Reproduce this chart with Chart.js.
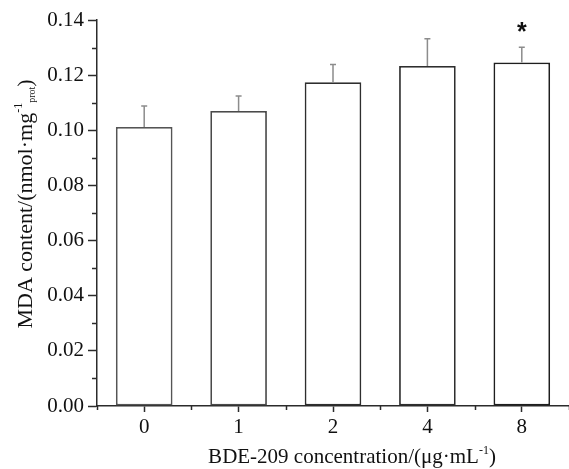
<!DOCTYPE html>
<html>
<head>
<meta charset="utf-8">
<script src="https://cdn.jsdelivr.net/npm/chart.js@4.4.0/dist/chart.umd.min.js"></script>
<style>
  html, body { margin: 0; padding: 0; background: #fff; }
  #wrap { width: 569px; height: 469px; }
</style>
</head>
<body>
<div id="wrap"><canvas id="mdaChart" width="569" height="469"></canvas></div>
<script>
// ============================
// Data
// ============================
const categories = ["0", "1", "2", "4", "8"];
const mdaMean = [0.1012, 0.1070, 0.1174, 0.1233, 0.1246];
const mdaSd = [0.0076, 0.0054, 0.0065, 0.0099, 0.0055];
const significance = ["", "", "", "", "*"];
const yMin = 0;
const yMax = 0.14;
const yStep = 0.02;

const SERIF = "'Liberation Serif', 'DejaVu Serif', serif";
const AXIS = "#2b2b2b";

// ============================
// Draw mixed-size text segments in a row
// ============================
function drawSegments(ctx, segs, x, y, align) {
  let total = 0;
  segs.forEach(s => {
    ctx.font = s.size + "px " + SERIF;
    s.w = ctx.measureText(s.text).width;
    total += s.w;
  });
  let cx = align === "center" ? x - total / 2 : x;
  ctx.textAlign = "left";
  ctx.textBaseline = "alphabetic";
  segs.forEach(s => {
    ctx.font = s.size + "px " + SERIF;
    ctx.fillText(s.text, cx, y + (s.dy || 0));
    cx += s.w;
  });
}

// ============================
// Plugin: error bars, star, minor ticks, axis titles
// ============================
const extrasPlugin = {
  id: "extras",
  afterDatasetsDraw(chart) {
    const ctx = chart.ctx;
    const meta = chart.getDatasetMeta(0);
    const y = chart.scales.y;

    ctx.save();
    // error bars (upper half only)
    ctx.strokeStyle = "#8c8c8c";
    ctx.lineWidth = 1.5;
    meta.data.forEach((bar, i) => {
      const top = y.getPixelForValue(mdaMean[i] + mdaSd[i]);
      const base = y.getPixelForValue(mdaMean[i]);
      ctx.beginPath();
      ctx.moveTo(bar.x, base);
      ctx.lineTo(bar.x, top);
      ctx.moveTo(bar.x - 3, top);
      ctx.lineTo(bar.x + 3, top);
      ctx.stroke();

      if (significance[i]) {
        ctx.fillStyle = "#111";
        ctx.font = "bold 25px 'Liberation Sans', sans-serif";
        ctx.textAlign = "center";
        ctx.textBaseline = "middle";
        ctx.fillText(significance[i], bar.x, top - 14);
      }
    });
    ctx.restore();
  },
  afterDraw(chart) {
    const ctx = chart.ctx;
    const x = chart.scales.x;
    const y = chart.scales.y;
    const area = chart.chartArea;

    ctx.save();
    ctx.strokeStyle = AXIS;
    ctx.lineWidth = 1.5;

    // minor y ticks
    for (let v = yMin + yStep / 2; v < yMax; v += yStep) {
      const py = Math.round(y.getPixelForValue(v)) + 0.5;
      ctx.beginPath();
      ctx.moveTo(area.left, py);
      ctx.lineTo(area.left - 5, py);
      ctx.stroke();
    }
    // minor x ticks between categories
    const half = (x.getPixelForValue(1) - x.getPixelForValue(0)) / 2;
    for (let i = 0; i <= categories.length; i++) {
      const px = Math.round(x.getPixelForValue(i) - half) + 0.5;
      ctx.beginPath();
      ctx.moveTo(px, area.bottom);
      ctx.lineTo(px, area.bottom + 4);
      ctx.stroke();
    }

    ctx.fillStyle = "#111";
    // x title
    drawSegments(ctx, [
      { text: "BDE-209 concentration/(\u03bcg\u00b7mL", size: 21 },
      { text: "-1", size: 12, dy: -9 },
      { text: ")", size: 21 }
    ], (area.left + area.right) / 2 + 19, 463, "center");

    // y title (rotated)
    ctx.translate(32, (area.top + area.bottom) / 2 - 9);
    ctx.rotate(-Math.PI / 2);
    drawSegments(ctx, [
      { text: "MDA content/(nmol\u00b7mg", size: 22 },
      { text: "-1", size: 12, dy: -10 },
      { text: "prot", size: 10, dy: 3 },
      { text: ")", size: 22 }
    ], 0, 0, "center");
    ctx.restore();
  }
};

// ============================
// Chart
// ============================
const ctx = document.getElementById("mdaChart").getContext("2d");
new Chart(ctx, {
  type: "bar",
  data: {
    labels: categories,
    datasets: [{
      label: "MDA content",
      data: mdaMean,
      backgroundColor: "#ffffff",
      borderColor: ["#555555", "#4a4a4a", "#2e2e2e", "#2e2e2e", "#1e1e1e"],
      borderWidth: 1.8,
      borderSkipped: false,
      categoryPercentage: 0.6,
      barPercentage: 1.0
    }]
  },
  options: {
    responsive: false,
    animation: false,
    devicePixelRatio: 1,
    layout: { padding: { top: 20, right: 0, bottom: 0, left: 0 } },
    plugins: {
      legend: { display: false },
      tooltip: { enabled: false }
    },
    scales: {
      x: {
        type: "category",
        offset: true,
        grid: {
          display: true,
          drawOnChartArea: false,
          offset: false,
          tickLength: 6,
          tickWidth: 1.5,
          color: AXIS
        },
        border: { display: true, color: AXIS, width: 1.5 },
        ticks: {
          color: "#111",
          padding: 3,
          maxRotation: 0,
          font: { family: SERIF, size: 21 }
        },
        afterFit: s => { s.height = 469 - 406; }
      },
      y: {
        min: yMin,
        max: yMax,
        grid: {
          display: true,
          drawOnChartArea: false,
          tickLength: 9,
          tickWidth: 1.5,
          color: AXIS
        },
        border: { display: true, color: AXIS, width: 1.5 },
        ticks: {
          stepSize: yStep,
          color: "#111",
          padding: 4,
          font: { family: SERIF, size: 21 },
          callback: v => v.toFixed(2)
        },
        afterFit: s => { s.width = 97; }
      }
    }
  },
  plugins: [extrasPlugin]
});
</script>
</body>
</html>
